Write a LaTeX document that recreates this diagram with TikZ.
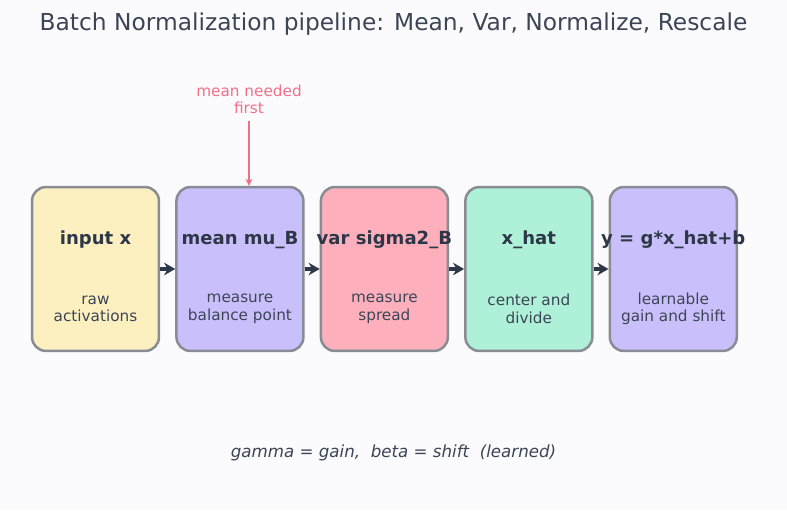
\documentclass[tikz,border=0pt]{standalone}
\usepackage{fontspec}
\setmainfont{DejaVu Sans}
\usetikzlibrary{arrows.meta, positioning}

\definecolor{pagebg}{HTML}{FBFBFD}
\definecolor{inkdark}{HTML}{2D3748}
\definecolor{inksoft}{HTML}{3C4556}
\definecolor{edgegray}{HTML}{888C94}
\definecolor{fillyellow}{HTML}{FDF0C0}
\definecolor{filllav}{HTML}{C9C0FB}
\definecolor{fillrose}{HTML}{FDB0BB}
\definecolor{fillmint}{HTML}{AEF0D8}
\definecolor{notepink}{HTML}{F07087}

\begin{document}
\begin{tikzpicture}[
  x=0.72pt, y=-0.72pt,
  node distance=10.8pt,
  stage/.style={rectangle, draw=edgegray, line width=1.8pt, rounded corners=10pt, minimum width=91.4pt, minimum height=118pt, inner sep=0pt},
  head/.style={text=inkdark, font=\fontsize{13}{15}\bfseries\selectfont, inner sep=0pt},
  desc/.style={text=inksoft, align=center, font=\fontsize{11}{12.5}\selectfont, inner sep=0pt},
  flow/.style={draw=inkdark, line width=2.4pt, -{Stealth[length=8pt, width=9pt]}},
  notearrow/.style={draw=notepink, line width=1.5pt, -{Stealth[length=5pt, width=5pt]}}
]

\fill[pagebg] (0,0) rectangle (787,510);
\useasboundingbox (0,0) rectangle (787,510);

\node[text=inksoft, font=\fontsize{16.8}{19}\selectfont] (title) at (393.5,24) {Batch Normalization pipeline: Mean, Var, Normalize, Rescale};

\node[stage, fill=fillyellow] (input) at (95.5,269) {};
\node[stage, fill=filllav, right=of input] (mean) {};
\node[stage, fill=fillrose, right=of mean] (var) {};
\node[stage, fill=fillmint, right=of var] (xhat) {};
\node[stage, fill=filllav, right=of xhat] (out) {};

\node[head] (inputH) at ([yshift=20.9pt]input.center) {input x};
\node[head] (meanH) at ([yshift=20.9pt]mean.center) {mean mu\_B};
\node[head] (varH) at ([yshift=20.9pt]var.center) {var sigma2\_B};
\node[head] (xhatH) at ([yshift=20.9pt]xhat.center) {x\_hat};
\node[head] (outH) at ([yshift=20.9pt]out.center) {y = g*x\_hat+b};

\node[desc] (inputD) at ([yshift=-28.6pt]input.center) {raw\\activations};
\node[desc] (meanD) at ([yshift=-28.6pt]mean.center) {measure\\balance point};
\node[desc] (varD) at ([yshift=-28.6pt]var.center) {measure\\spread};
\node[desc] (xhatD) at ([yshift=-28.6pt]xhat.center) {center and\\divide};
\node[desc] (outD) at ([yshift=-28.6pt]out.center) {learnable\\gain and shift};

\draw[flow] (input) -- (mean);
\draw[flow] (mean) -- (var);
\draw[flow] (var) -- (xhat);
\draw[flow] (xhat) -- (out);

\node[text=notepink, align=center, font=\fontsize{11}{12.5}\selectfont, inner sep=2pt] (note) at (249,99.5) {mean needed\\first};
\draw[notearrow] ([yshift=-3pt]note.south) -- (note |- mean.north);

\node[text=inksoft, font=\fontsize{12}{14}\itshape\selectfont] (legend) at (393.5,453) {gamma = gain,\ \ beta = shift\ \ (learned)};

\end{tikzpicture}
\end{document}
